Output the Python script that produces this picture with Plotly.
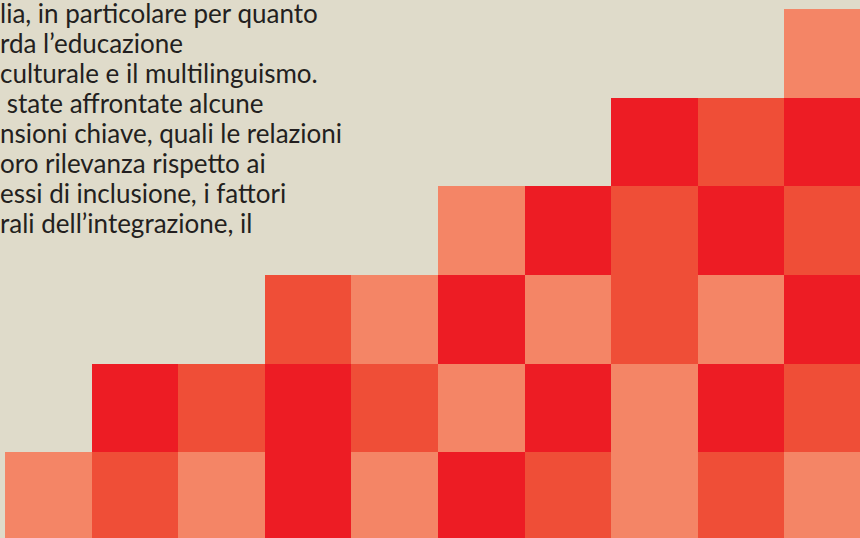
import plotly.graph_objects as go

# colour codes: 0 = empty, 1 = light, 2 = mid, 3 = red
columns = list(range(10))
levels = list(range(6))  # 0 = bottom row
row_0 = [1, 2, 1, 3, 1, 3, 2, 1, 2, 1]
row_1 = [0, 3, 2, 3, 2, 1, 3, 1, 3, 2]
row_2 = [0, 0, 0, 2, 1, 3, 1, 2, 1, 3]
row_3 = [0, 0, 0, 0, 0, 1, 3, 2, 3, 2]
row_4 = [0, 0, 0, 0, 0, 0, 0, 3, 2, 3]
row_5 = [0, 0, 0, 0, 0, 0, 0, 0, 0, 1]

text_lines = [
    "lia, in particolare per quanto",
    "rda l’educazione",
    "culturale e il multilinguismo.",
    "\u00a0state affrontate alcune",
    "nsioni chiave, quali le relazioni",
    "oro rilevanza rispetto ai",
    "essi di inclusione, i fattori",
    "rali dell’integrazione, il",
]

BG = "#DFDBCA"
LIGHT = "#F48566"
MID = "#EF4E37"
RED = "#ED1C24"
W, H = 860, 538

z = []
for row in [row_0, row_1, row_2, row_3, row_4, row_5]:
    z.append([v if v > 0 else None for v in row])

fig = go.Figure(go.Heatmap(
    x=columns,
    y=levels,
    z=z,
    zmin=0.5,
    zmax=3.5,
    colorscale=[
        [0.0, LIGHT], [1/3, LIGHT],
        [1/3, MID], [2/3, MID],
        [2/3, RED], [1.0, RED],
    ],
    showscale=False,
    hoverinfo="skip",
    xgap=0,
    ygap=0,
))

# one annotation per line, baselines about 30px apart
for i, line in enumerate(text_lines):
    baseline = 21 + 30 * i
    fig.add_annotation(
        text=line,
        xref="paper", yref="paper",
        x=-1 / W, y=1 - (baseline - 8) / H,
        xanchor="left", yanchor="middle",
        align="left",
        showarrow=False,
        borderpad=0,
        font=dict(family="Lato", size=26, color="#231F20"),
    )

fig.update_layout(
    width=W,
    height=H,
    margin=dict(l=0, r=0, t=0, b=0),
    paper_bgcolor=BG,
    plot_bgcolor=BG,
    xaxis=dict(range=[-0.558, 9.373], visible=False, fixedrange=True),
    yaxis=dict(range=[-0.471, 5.602], visible=False, fixedrange=True),
    showlegend=False,
)

fig.write_html(
    "out.html",
    config={"displayModeBar": False, "staticPlot": True},
    post_script="document.body.style.margin='0';",
)
